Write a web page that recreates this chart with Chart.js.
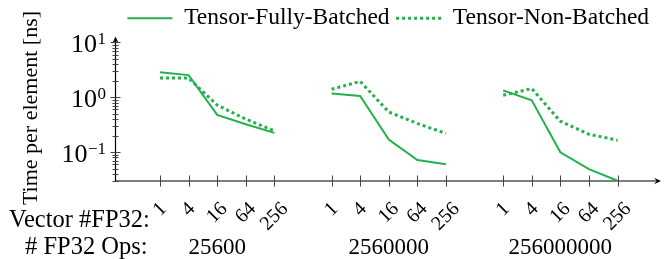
<!DOCTYPE html>
<html>
<head>
<meta charset="utf-8">
<script src="https://cdn.jsdelivr.net/npm/chart.js@4"></script>
<style>
  html, body { margin: 0; padding: 0; background: #fff; }
  #wrap { width: 672px; height: 259px; }
</style>
</head>
<body>
<div id="wrap"><canvas id="chart"></canvas></div>
<script>
const vectorSizes = ['1', '4', '16', '64', '256'];
const opsCounts = ['25600', '2560000', '256000000'];

// time per element [ns], one row per # FP32 ops group
const fullyBatched = [
    [2.85, 2.54, 0.477, 0.323, 0.224],
    [1.17, 1.06, 0.170, 0.0716, 0.0598],
    [1.34, 0.88, 0.099, 0.049, 0.0300],
];
const nonBatched = [
    [2.24, 2.24, 0.72, 0.40, 0.244],
    [1.40, 1.95, 0.54, 0.333, 0.219],
    [1.09, 1.44, 0.366, 0.212, 0.165],
];

const yMajorTicks = [0.1, 1, 10];
const yTickExponents = ['\u22121', '0', '1'];

const serif = "'Liberation Serif', 'Times New Roman', serif";
const green = '#22b14c';
const groupStride = 6;

const toPoints = (groups) => {
    const pts = [];
    groups.forEach((vals, g) => {
        if (g > 0) pts.push({ x: g * groupStride - 1, y: null });
        vals.forEach((v, j) => pts.push({ x: g * groupStride + j, y: v }));
    });
    return pts;
};

const tickPositions = [];
const tickLabels = [];
opsCounts.forEach((_, g) => vectorSizes.forEach((s, j) => {
    tickPositions.push(g * groupStride + j);
    tickLabels.push(s);
}));
const groupCenters = opsCounts.map((_, g) => g * groupStride + (vectorSizes.length - 1) / 2);

const arrow = (ctx, x, y, dx, dy) => {
    const len = 7, half = 3.2;
    const px = -dy, py = dx;
    ctx.beginPath();
    ctx.moveTo(x, y);
    ctx.lineTo(x - dx * len + px * half, y - dy * len + py * half);
    ctx.lineTo(x - dx * len * 0.6, y - dy * len * 0.6);
    ctx.lineTo(x - dx * len - px * half, y - dy * len - py * half);
    ctx.closePath();
    ctx.fill();
};

const axesPlugin = {
    id: 'axes',
    beforeDatasetsDraw(chart) {
        const { ctx, chartArea: a, scales: { x, y } } = chart;
        const left = a.left, bottom = a.bottom;
        const yTop = y.getPixelForValue(10) - 6;
        ctx.save();
        ctx.strokeStyle = '#000';
        ctx.fillStyle = '#000';
        ctx.lineWidth = 1.2;

        ctx.beginPath();
        ctx.moveTo(left, bottom);
        ctx.lineTo(left, yTop + 2);
        ctx.moveTo(left, bottom);
        ctx.lineTo(a.right - 2, bottom);
        ctx.stroke();
        arrow(ctx, left, yTop, 0, -1);
        arrow(ctx, a.right, bottom, 1, 0);

        // y ticks
        ctx.lineWidth = 1;
        ctx.strokeStyle = '#444';
        for (let e = -2; e <= 1; e++) {
            for (let m = 1; m <= 9; m++) {
                const v = m * Math.pow(10, e);
                if (v < y.min || v > 10.001) continue;
                const py = Math.round(y.getPixelForValue(v)) + 0.5;
                const w = m === 1 ? 5 : 3;
                ctx.beginPath();
                ctx.moveTo(left - w, py);
                ctx.lineTo(left + w, py);
                ctx.stroke();
            }
        }
        // x ticks
        tickPositions.forEach((t) => {
            const px = Math.round(x.getPixelForValue(t)) + 0.5;
            ctx.beginPath();
            ctx.moveTo(px, bottom - 5.5);
            ctx.lineTo(px, bottom + 5.5);
            ctx.stroke();
        });
        ctx.restore();
    },
    afterDraw(chart) {
        const { ctx, chartArea: a, scales: { x, y } } = chart;
        ctx.save();
        ctx.fillStyle = '#000';
        ctx.textBaseline = 'alphabetic';

        // y tick labels 10^n
        yMajorTicks.forEach((v, i) => {
            const py = y.getPixelForValue(v);
            ctx.font = '17px ' + serif;
            const supW = ctx.measureText(yTickExponents[i]).width;
            const right = 106;
            ctx.textAlign = 'left';
            ctx.fillText(yTickExponents[i], right - supW, py + 2);
            ctx.font = '26px ' + serif;
            ctx.textAlign = 'right';
            ctx.fillText('10', right - supW - 0.5, py + 10);
        });

        // rotated x tick labels
        ctx.font = '20px ' + serif;
        ctx.textAlign = 'center';
        ctx.textBaseline = 'middle';
        tickPositions.forEach((t, i) => {
            const w = ctx.measureText(tickLabels[i]).width;
            ctx.save();
            ctx.translate(x.getPixelForValue(t), a.bottom + 25 + w * 0.3536);
            ctx.rotate(-Math.PI / 4);
            ctx.fillText(tickLabels[i], 0, 0);
            ctx.restore();
        });

        // group labels
        ctx.font = '23px ' + serif;
        ctx.textBaseline = 'alphabetic';
        groupCenters.forEach((c, g) => {
            ctx.fillText(opsCounts[g], x.getPixelForValue(c), 254);
        });

        // y title
        ctx.font = '22px ' + serif;
        ctx.save();
        ctx.translate(37, 108);
        ctx.rotate(-Math.PI / 2);
        ctx.fillText('Time per element [ns]', 0, 0);
        ctx.restore();

        // row captions
        ctx.font = '24.5px ' + serif;
        ctx.textAlign = 'left';
        ctx.fillText('Vector #FP32:', 9, 227);
        ctx.fillText('# FP32 Ops:', 25, 254);
        ctx.restore();
    }
};

const config = {
    type: 'line',
    data: {
        datasets: [
            {
                label: 'Tensor-Fully-Batched',
                data: toPoints(fullyBatched),
                borderColor: green,
                backgroundColor: green,
                borderWidth: 2,
                pointRadius: 0,
                pointStyle: 'line',
                spanGaps: false,
                tension: 0,
            },
            {
                label: 'Tensor-Non-Batched',
                data: toPoints(nonBatched),
                borderColor: green,
                backgroundColor: green,
                borderWidth: 3,
                borderDash: [3, 3],
                pointRadius: 0,
                pointStyle: 'line',
                spanGaps: false,
                tension: 0,
            },
        ],
    },
    options: {
        responsive: true,
        maintainAspectRatio: false,
        animation: false,
        layout: { padding: { left: 115.5, right: 11, top: 0, bottom: 78 } },
        plugins: {
            tooltip: { enabled: false },
            legend: {
                position: 'top',
                align: 'center',
                labels: {
                    color: '#000',
                    font: { family: serif, size: 23.5 },
                    usePointStyle: true,
                    pointStyleWidth: 45,
                    boxHeight: 10,
                    padding: 6.5,
                    generateLabels: (chart) => chart.data.datasets.map((ds, i) => ({
                        text: ds.label,
                        fillStyle: ds.borderColor,
                        strokeStyle: ds.borderColor,
                        lineWidth: ds.borderWidth,
                        lineDash: ds.borderDash || [],
                        pointStyle: 'line',
                        fontColor: '#000',
                        hidden: false,
                        datasetIndex: i,
                    })),
                },
            },
        },
        scales: {
            x: {
                type: 'linear',
                display: false,
                bounds: 'data',
                min: -1.556,
                max: 17.52,
            },
            y: {
                type: 'logarithmic',
                display: false,
                bounds: 'data',
                min: 0.0297,
                max: 11.1,
            },
        },
    },
    plugins: [axesPlugin],
};

new Chart(document.getElementById('chart'), config);
</script>
</body>
</html>
